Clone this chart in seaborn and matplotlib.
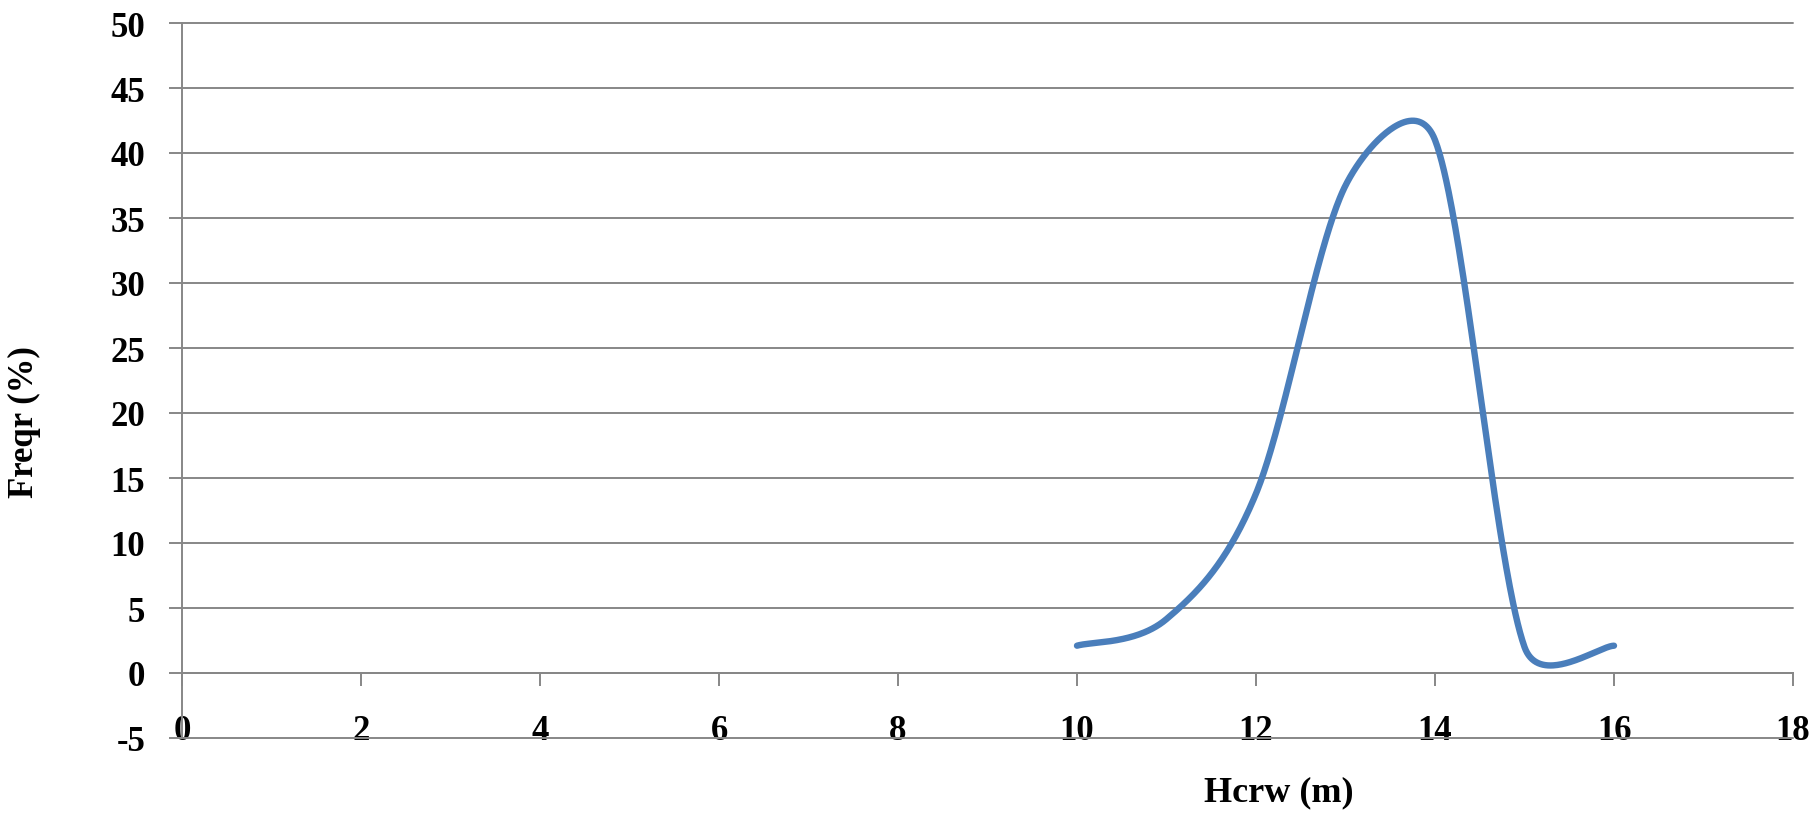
import numpy as np
import pandas as pd
import seaborn as sns
from matplotlib import pyplot as plt

# values
hcrw = [10, 11, 12, 13, 14, 15, 16]
freqr = [2.1, 4.15, 13.8, 37.5, 41.0, 2.0, 2.1]
x_ticks = [0, 2, 4, 6, 8, 10, 12, 14, 16, 18]
y_ticks = [-5, 0, 5, 10, 15, 20, 25, 30, 35, 40, 45, 50]

LINE = '#4a7ebb'
GREY = '#878787'

# pixels per data unit on the figure, smoothing is done in screen space
PX_X = 1611 / 18
PX_Y = 715 / 55


def smooth_line(xs, ys, n=80):
    # excel style smoothed line: bezier segments with control arms of 1/6
    # of the neighbour chord, cut back to half the segment when too long
    p = np.column_stack([np.array(xs) * PX_X, np.array(ys) * PX_Y])
    m = len(p)
    t = np.linspace(0, 1, n)[:, None]
    out = []
    for i in range(m - 1):
        p0 = p[max(i - 1, 0)]
        p1 = p[i]
        p2 = p[i + 1]
        p3 = p[min(i + 2, m - 1)]
        d02 = np.linalg.norm(p2 - p0)
        d12 = np.linalg.norm(p2 - p1)
        d13 = np.linalg.norm(p3 - p1)
        f0 = 1 / 6 if d02 / 6 < d12 / 2 else d12 / d02 / 2
        f1 = 1 / 6 if d13 / 6 < d12 / 2 else d12 / d13 / 2
        c1 = p1 + (p2 - p0) * f0
        c2 = p2 - (p3 - p1) * f1
        pts = ((1 - t) ** 3) * p1 + 3 * ((1 - t) ** 2) * t * c1 \
            + 3 * (1 - t) * t ** 2 * c2 + t ** 3 * p2
        out.append(pts if i == 0 else pts[1:])
    out = np.vstack(out)
    return pd.DataFrame({'Hcrw': out[:, 0] / PX_X, 'Freqr': out[:, 1] / PX_Y})


sns.set_style('white')
plt.rcParams['font.family'] = ['Liberation Serif', 'DejaVu Serif']
plt.rcParams['font.weight'] = 'bold'
plt.rcParams['text.color'] = 'black'
plt.rcParams['axes.labelcolor'] = 'black'

fig = plt.figure(figsize=(18.11, 8.2), dpi=100)
ax = fig.add_axes([182 / 1811, 81 / 820, 1611 / 1811, 715 / 820])

curve = smooth_line(hcrw, freqr)
sns.lineplot(data=curve, x='Hcrw', y='Freqr', sort=False, estimator=None,
             color=LINE, linewidth=4.6, ax=ax, zorder=5)

ax.set_xlim(0, 18)
ax.set_ylim(-5, 50)
ax.set_xticks(x_ticks)
ax.set_yticks(y_ticks)
ax.set_xticklabels([str(v) for v in x_ticks])
ax.set_yticklabels([str(v) for v in y_ticks])

for y in y_ticks:
    ax.axhline(y, color=GREY, linewidth=1.4, zorder=1, clip_on=False)

for side in ['top', 'right']:
    ax.spines[side].set_visible(False)
ax.spines['left'].set_position(('data', 0))
ax.spines['bottom'].set_position(('data', 0))
for side in ['left', 'bottom']:
    ax.spines[side].set_color(GREY)
    ax.spines[side].set_linewidth(1.4)

ax.tick_params(axis='y', direction='out', length=9.5, width=1.4, color=GREY,
               pad=17, labelsize=25, left=True, labelcolor='black')
ax.tick_params(axis='x', direction='out', length=9.5, width=1.4, color=GREY,
               pad=20, labelsize=25, bottom=True, labelcolor='black')
for lab in ax.get_xticklabels() + ax.get_yticklabels():
    lab.set_fontweight('bold')

ax.set_xlabel('Hcrw (m)', fontsize=26, fontweight='bold', va='center')
ax.xaxis.set_label_coords((1279 - 182) / 1611, -54 / 715)
ax.set_ylabel('Freqr (%)', fontsize=25, fontweight='bold', va='center')
ax.yaxis.set_label_coords(-158 / 1611, 317 / 715)

fig.savefig('out.png', dpi=100)
